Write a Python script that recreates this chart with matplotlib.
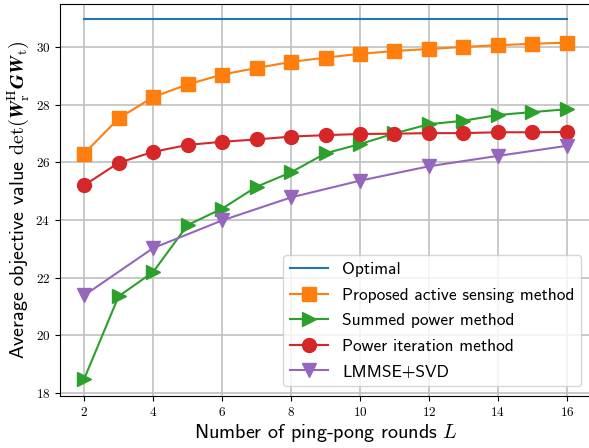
import matplotlib
matplotlib.use("Agg")
import matplotlib.pyplot as plt
from matplotlib.ticker import StrMethodFormatter, MultipleLocator

L_all = list(range(2, 17))
L_even = list(range(2, 17, 2))

optimal = [30.97] * len(L_all)
proposed = [26.30, 27.52, 28.26, 28.70, 29.04, 29.27, 29.48, 29.63, 29.76,
            29.86, 29.93, 30.00, 30.06, 30.11, 30.15]
summed = [18.48, 21.35, 22.19, 23.82, 24.39, 25.15, 25.65, 26.31, 26.63,
          27.00, 27.32, 27.44, 27.64, 27.74, 27.84]
power_iter = [25.20, 25.98, 26.36, 26.60, 26.71, 26.79, 26.89, 26.94, 26.98,
              26.99, 27.01, 27.01, 27.04, 27.04, 27.05]
lmmse = [21.38, 23.02, 23.98, 24.78, 25.36, 25.86, 26.22, 26.57]

labels = ["Optimal", "Proposed active sensing method", "Summed power method",
          "Power iteration method", "LMMSE+SVD"]

plt.rcParams['mathtext.fontset'] = 'cm'
plt.rcParams['font.family'] = ['cmss10', 'DejaVu Sans']
plt.rcParams['axes.unicode_minus'] = False

fig = plt.figure(figsize=(5.89, 4.48), dpi=100)
ax = fig.add_axes([60/589, 52/448, 531/589, 392/448])

ax.plot(L_all, optimal, color='C0', lw=1.5, label=labels[0])
ax.plot(L_all, proposed, color='C1', lw=1.5, marker='s', ms=10, label=labels[1])
ax.plot(L_all, summed, color='C2', lw=1.5, marker='>', ms=10, label=labels[2])
ax.plot(L_all, power_iter, color='C3', lw=1.5, marker='o', ms=10, label=labels[3])
ax.plot(L_even, lmmse, color='C4', lw=1.5, marker='v', ms=10, label=labels[4])

ax.set_xlim(1.3, 16.7)
ax.set_ylim(17.89, 31.49)
ax.xaxis.set_major_locator(MultipleLocator(2))
ax.yaxis.set_major_locator(MultipleLocator(2))
ax.xaxis.set_major_formatter(StrMethodFormatter(r'${x:.0f}$'))
ax.yaxis.set_major_formatter(StrMethodFormatter(r'${x:.0f}$'))
ax.tick_params(labelsize=9.5)
ax.grid(True, color='#c0c0c0', lw=1.2)

ax.set_xlabel(r'Number of ping-pong rounds $L$', fontsize=14.5, labelpad=2)
ax.set_ylabel(r'Average objective value $\det(\mathbfit{W}_{\mathrm{r}}^{\mathrm{H}}\mathbfit{G}\mathbfit{W}_{\mathrm{t}})$',
              fontsize=14.5, labelpad=3)

ax.legend(loc='lower right', fontsize=12.5, labelspacing=0.6, handlelength=2.2,
          borderaxespad=0.55)

fig.savefig('out.png', dpi=100)
